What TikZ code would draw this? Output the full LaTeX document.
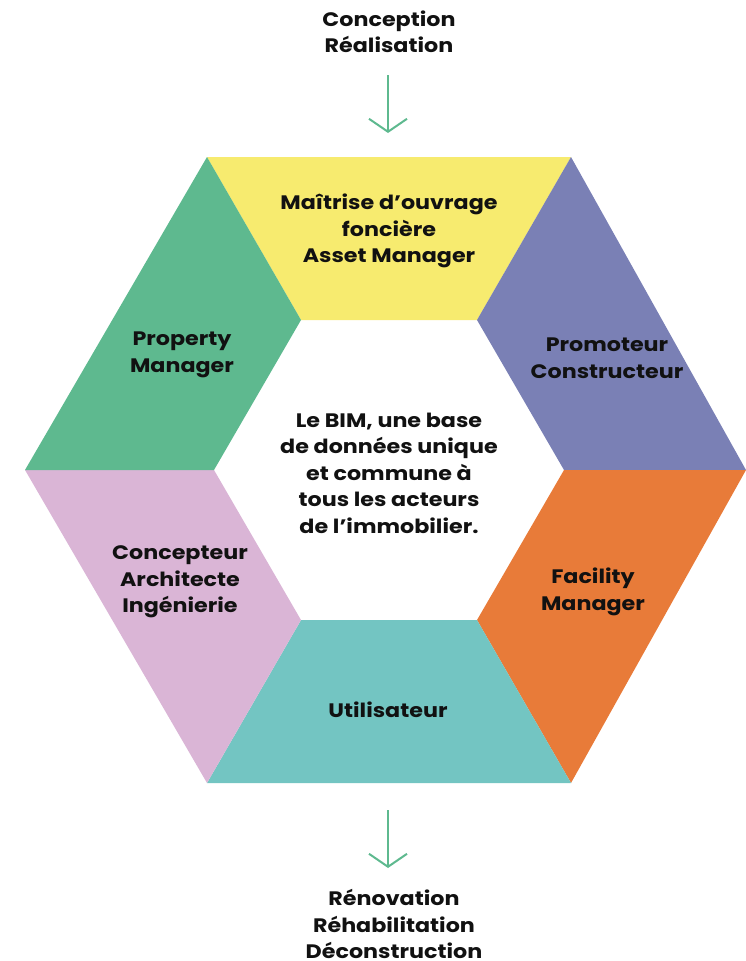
\documentclass[tikz,border=0pt]{standalone}
\usepackage{fontspec}
\setmainfont{Poppins}[FakeStretch=1.14]
\usetikzlibrary{arrows.meta}
\definecolor{cyellow}{HTML}{F7EB6F}
\definecolor{cpurple}{HTML}{7A80B5}
\definecolor{corange}{HTML}{E87B39}
\definecolor{cteal}{HTML}{73C5C2}
\definecolor{cpink}{HTML}{DAB5D6}
\definecolor{cgreen}{HTML}{5EB98F}
\definecolor{ctext}{HTML}{111111}
\begin{document}
\begin{tikzpicture}[x=1pt,y=-1pt,
  lbl/.style={align=center,font=\bfseries\fontsize{19.5}{26.5}\selectfont,text=ctext,inner sep=0pt},
  flow/.style={draw=cgreen,line width=2pt,-{Straight Barb[length=13pt,width=38pt,line width=2pt]}}]
\useasboundingbox (0,0) rectangle (746,961);
% outer vertices
\coordinate (OTL) at (207,157); \coordinate (OTR) at (571,157);
\coordinate (OR) at (746,470); \coordinate (OBR) at (571,783);
\coordinate (OBL) at (207,783); \coordinate (OL) at (25,470);
% inner vertices
\coordinate (ITL) at (301,320); \coordinate (ITR) at (477,320);
\coordinate (IR) at (564,470); \coordinate (IBR) at (477,620);
\coordinate (IBL) at (301,620); \coordinate (IL) at (214,470);
\fill[cyellow] (OTL) -- (OTR) -- (ITR) -- (ITL) -- cycle;
\fill[cpurple] (OTR) -- (OR) -- (IR) -- (ITR) -- cycle;
\fill[corange] (OR) -- (OBR) -- (IBR) -- (IR) -- cycle;
\fill[cteal] (OBR) -- (OBL) -- (IBL) -- (IBR) -- cycle;
\fill[cpink] (OBL) -- (OL) -- (IL) -- (IBL) -- cycle;
\fill[cgreen] (OL) -- (OTL) -- (ITL) -- (IL) -- cycle;
% labels
\node[lbl] (top) at (389,32) {Conception\\Réalisation};
\node[lbl] (moa) at (389,231) {Maîtrise d’ouvrage\\foncière\\Asset Manager};
\node[lbl] (pm) at (182,355) {Property\\Manager};
\node[lbl] (pc) at (607,358) {Promoteur\\Constructeur};
\node[lbl] (bim) at (389,473) {Le BIM, une base\\de données unique\\et commune à\\tous les acteurs\\de l’immobilier.};
\node[lbl] (ca) at (180,582) {Concepteur\\Architecte\\Ingénierie};
\node[lbl] (fm) at (593,592) {Facility\\Manager};
\node[lbl] (ut) at (388,710) {Utilisateur};
\node[lbl,anchor=south,text depth=0pt] (bot) at (394,959) {Rénovation\\Réhabilitation\\Déconstruction};
\coordinate (a1) at (388,75); \coordinate (a2) at (388,133);
\coordinate (b1) at (388,810); \coordinate (b2) at (388,868);
\draw[flow] (a1) -- (a2);
\draw[flow] (b1) -- (b2);
\end{tikzpicture}
\end{document}
